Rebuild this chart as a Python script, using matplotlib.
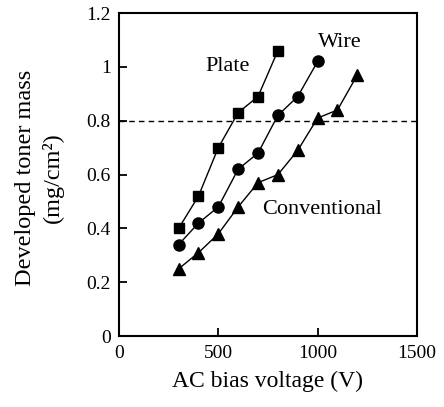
import matplotlib
matplotlib.use("Agg")
import matplotlib.pyplot as plt

plt.rcParams['font.family'] = ['Liberation Serif', 'DejaVu Serif']

# data
plate_v = [300, 400, 500, 600, 700, 800]
plate_m = [0.40, 0.52, 0.70, 0.83, 0.89, 1.06]
wire_v = [300, 400, 500, 600, 700, 800, 900, 1000]
wire_m = [0.34, 0.42, 0.48, 0.62, 0.68, 0.82, 0.89, 1.02]
conv_v = [300, 400, 500, 600, 700, 800, 900, 1000, 1100, 1200]
conv_m = [0.25, 0.31, 0.38, 0.48, 0.57, 0.60, 0.69, 0.81, 0.84, 0.97]

x_ticks = [0, 500, 1000, 1500]
y_ticks = [0, 0.2, 0.4, 0.6, 0.8, 1, 1.2]
y_ticklabels = ['0', '0.2', '0.4', '0.6', '0.8', '1', '1.2']

fig = plt.figure(figsize=(4.44, 4.07), dpi=100)
ax = fig.add_axes([0.268, 0.174, 0.671, 0.794])

ax.plot(plate_v, plate_m, 'k-s', lw=1, ms=7.5)
ax.plot(wire_v, wire_m, 'k-o', lw=1, ms=8)
ax.plot(conv_v, conv_m, 'k-^', lw=1, ms=9)
ax.axhline(0.8, color='k', ls='--', lw=1, dashes=(4, 3))

ax.text(548, 1.0, 'Plate', fontsize=16, ha='center', va='center')
ax.text(1112, 1.09, 'Wire', fontsize=16, ha='center', va='center')
ax.text(1022, 0.47, 'Conventional', fontsize=16, ha='center', va='center')

ax.set_xlim(0, 1500)
ax.set_ylim(0, 1.2)
ax.set_xticks(x_ticks)
ax.set_yticks(y_ticks)
ax.set_yticklabels(y_ticklabels)
ax.tick_params(direction='in', length=6, width=1.3, labelsize=14, pad=6, top=False, right=False)
for s in ax.spines.values():
    s.set_linewidth(1.5)

ax.set_xlabel('AC bias voltage (V)', fontsize=17, labelpad=7)
ax.set_ylabel('Developed toner mass\n(mg/cm²)', fontsize=17.5, linespacing=1.35)
ax.yaxis.set_label_coords(-0.185, 0.49)

fig.savefig('out.png', dpi=100)
